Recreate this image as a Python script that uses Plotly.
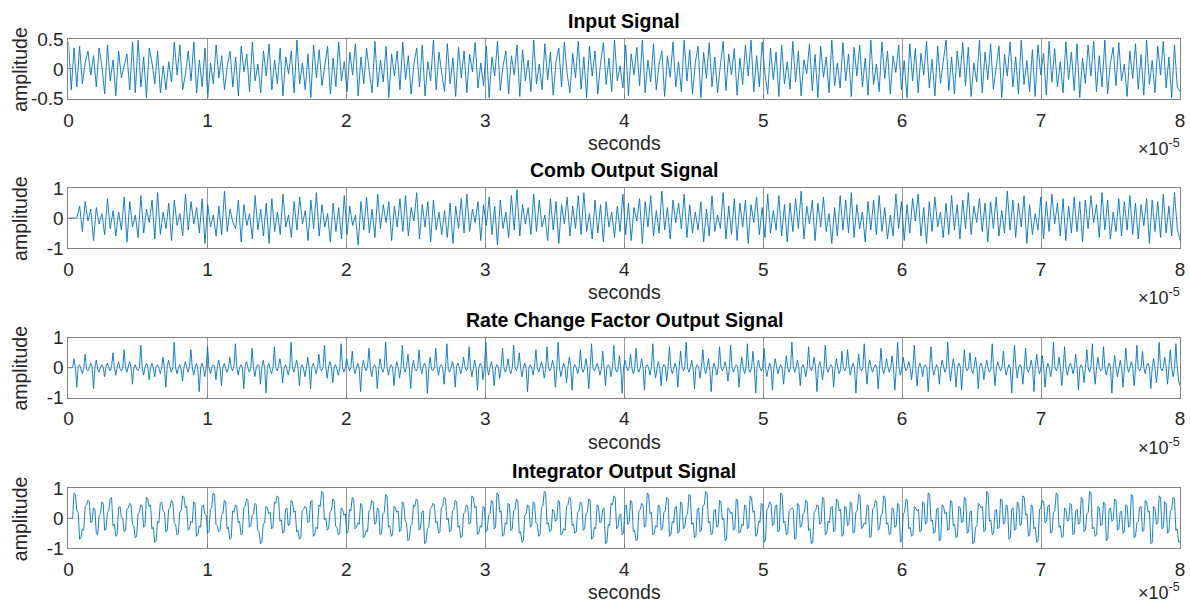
import numpy as np
import plotly.graph_objects as go

# Sampled signals of a CIC filter chain, amplitudes stored in hundredths.
input_signal_c = [
    45, -35, 35, -30, 38, -25, 10, 30, -10, 22, -30, 35, 5, -42, 40, -20, 15, -45, 30, -15,
    5, 25, -35, 45, -40, 48, -30, 20, -48, 35, 10, -25, 30, -40, 5, -35, 12, -22, 45, -10,
    40, -35, -8, 30, -20, 45, -40, 15, -30, 35, -48, 10, -25, 40, -15, 22, -35, 5, 30, -30,
    20, -45, 38, -5, 25, -38, 45, -20, 8, -40, 30, -12, 42, -35, 15, -25, 35, -45, 20, -8,
    30, -40, 48, -25, 10, -35, 25, -48, 40, -15, 32, -28, 5, 38, -42, 18, -30, 45, -20, 12,
    -38, 28, -10, 42, -45, 20, -25, 35, -5, -40, 46, -30, 15, -22, 38, -48, 25, -12, 30, -35,
    45, -18, 22, -42, 8, 35, -30, 40, -45, 12, -20, 48, -35, 28, -8, -38, 42, -25, 18, -46,
    36, -15, 30, -40, 25, -5, 44, -32, 10, -28, 38, -48, 20, -12, 46, -36, 5, 30, -42, 22,
    -10, 40, -46, 32, -20, 15, -38, 48, -25, 8, -35, 42, -18, 28, -44, 12, 35, -30, 45, -8,
    -40, 26, -15, 46, -34, 20, -48, 38, -12, 30, -42, 10, 44, -26, 18, -38, 48, -20, 5, -32,
    40, -45, 25, -10, 36, -28, 48, -40, 15, -22, 42, -35, 8, 30, -46, 22, -14, 45, -30, 12,
    -38, 48, -20, 32, -42, 10, 38, -48, 28, -16, 44, -30, 20, -40, 6, 46, -36, 25, -10, 34,
    -44, 18, -26, 40, -12, 48, -38, 22, -30, 45, -8, -42, 35, -18, 28, -46, 40, -25, 12, -34,
    46, -22, 30, -45, 15, -8, 42, -36, 24, -48, 38, -14, 20, -40, 48, -28, 10, -32, 44, -20,
    25, -46, 36, -12, 40, -30, 18, -44, 48, -26, 8, -38, 45, -16, 30, -42, 22, -6, 40, -35,
    14, -48, 42, -20, 34, -40, 26, -10, 46, -32, 16, -45, 38, -24, 12, 48, -36, 20, -42, 30,
    -14, 44, -28, 36, -46, 10, -22, 48, -40, 28, -18, 42, -34, 6, 38, -48, 24, -12, 45, -30,
    20, -42, 48, -26, 14, -38, 32, -46, 40, -10, 26, -44, 46, -22, 34, -30, 12, -40, 45, -18,
    28, -36, 42, -48, 18, -24, 40, -12, 46, -38, 22, -30, 48, -42, 10, 36, -28, 44, -20, 8,
    -46, 30, -16, 42, -34, 24, -44, 48, -26, 14, -40, 38, -10, 46, -32, 20, -48, 40, -30, -38,
]

comb_signal_c = [
    0, 0, 0, 0, 40, -45, 55, -10, 30, -75, 35, -20, 15, -55, 65, -35, 25, -60, 20, -40,
    70, -80, 55, -30, 10, -65, 75, -50, 30, -15, 60, -70, 85, -55, 20, -35, 50, -75, 60, -25,
    15, -60, 80, -40, 55, -20, 35, -50, 65, -85, 45, -30, 10, -60, 40, -55, 90, -45, 30, -15,
    -35, 60, -80, 45, -25, 15, -70, 75, -40, 30, -60, 50, -85, 65, -45, 20, -55, 80, -30, 10,
    -65, 55, -40, 70, -20, 25, -75, 60, -35, 85, -60, 45, -30, 15, -80, 50, -45, 35, -70, 75,
    -55, 40, -25, 10, -90, 55, -40, 70, -50, 30, -65, 80, -35, 45, -15, 55, -75, 40, -30, 65,
    -45, 75, -60, 35, -10, 85, -70, 45, -30, 55, -80, 60, -40, 20, -55, 25, -65, 50, -85, 40,
    -35, 65, -50, 80, -45, 30, -15, 55, -75, 45, -25, 70, -55, 40, -90, 60, -35, 20, -65, 75,
    -40, 95, -60, 45, -20, 35, -55, 80, -45, 60, -30, 10, -75, 65, -40, 55, -85, 45, -20, 70,
    -60, 40, -35, 75, -55, 85, -45, 15, -70, 60, -50, 45, -80, 55, -30, 20, -65, 40, -45, 80,
    -55, 50, -75, 35, -10, 65, -85, 55, -30, 75, -60, 25, -50, 90, -40, 35, -70, 60, -15, 50,
    -35, 80, -65, 45, -50, 20, -40, 55, -80, 30, -60, 75, -45, 10, -35, 85, -70, 40, -55, 65,
    -75, 50, -30, 60, -85, 45, -15, 70, -55, 35, -65, 80, -50, 25, -40, 75, -60, 45, -80, 50,
    -45, 65, -35, 90, -70, 40, -20, 60, -75, 50, -30, 70, -45, 15, -85, 35, -60, 75, -40, 60,
    -50, 85, -65, 45, -35, 20, -80, 55, -40, 60, -55, 75, -45, 35, -70, 10, -60, 80, -35, 55,
    -75, 45, -50, 65, -10, 80, -60, 35, -85, 55, -45, 70, -30, 20, -65, 50, -55, 75, -40, 45,
    -70, 60, -35, 85, -55, 40, -15, 65, -45, 50, -80, 55, -35, 70, -60, 25, -50, 90, -40, 60,
    -65, 50, -30, 75, -85, 45, -55, 15, -40, 70, -70, 55, -45, 80, -20, 50, -60, 65, -75, 40,
    -50, 70, -45, 55, -80, 60, -35, 75, -15, 45, -65, 85, -40, 60, -70, 20, -45, 65, -60, 55,
    -40, 75, -55, 50, -70, 45, -25, 65, -85, 60, -45, 55, -65, 80, -50, 40, -60, 85, -35, -75,
]

rate_change_c = [
    0, 0, 0, 0, 30, 0, -65, 5, 10, -5, -20, 0, 45, -5, -10, 0, 15, 3, -70, 0,
    25, -5, -15, 0, 10, 0, -30, 5, 15, 0, -10, 3, 50, 0, -25, 0, 20, -3, -10, 0,
    60, 0, -15, 5, 20, 0, -55, 0, 10, -5, -10, 0, 75, 0, -25, 0, 15, 5, -40, 0,
    15, 0, -30, 3, 10, 0, -20, 0, 35, -5, -65, 5, 25, 0, -15, 0, 85, 0, -20, 0,
    10, -5, -45, 0, 20, 0, -15, 5, 60, 0, -25, 0, 15, -5, -80, 0, 15, 0, -30, 3,
    70, 0, -20, 0, 10, 5, -40, 0, 25, 0, -60, 0, 15, -3, -15, 0, 35, 0, -10, 5,
    80, 0, -25, 0, 10, 0, -70, 5, 20, 0, -15, -3, 65, 0, -30, 0, 10, 5, -55, 0,
    25, 0, -85, 0, 15, -5, -20, 0, 70, 0, -10, 3, 30, 0, -50, 0, 10, -5, -25, 0,
    85, 0, -15, 5, 25, 0, -60, 0, 10, -5, -30, 0, 35, 0, -70, 3, 15, 0, -20, 0,
    45, -3, -10, 0, 75, 0, -35, 5, 20, 0, -50, 0, 10, -5, -25, 0, 80, 0, -15, 0,
    30, 5, -10, 0, 55, 0, -20, 0, 15, -3, -80, 0, 25, 0, -10, 5, 65, 0, -30, 0,
    10, 0, -70, -5, 30, 0, -15, 0, 85, 3, -25, 0, 10, 0, -60, -5, 20, 0, -35, 0,
    75, 0, -15, 5, 45, 0, -70, 0, 25, -3, -10, 0, 60, 0, -20, 5, 15, 0, -85, 0,
    35, -5, -10, 0, 65, 0, -25, 3, 10, 0, -55, 0, 80, -5, -15, 0, 20, 0, -65, 5,
    15, 0, -20, 0, 35, 5, -10, 0, 70, 0, -30, -3, 25, 0, -75, 0, 15, 5, -40, 0,
    85, 0, -25, 0, 20, -5, -60, 0, 10, 0, -35, 3, 65, 0, -15, 0, 30, -5, -20, 0,
    75, 0, -10, 5, 50, 0, -30, 0, 15, -3, -80, 0, 10, 0, -25, 5, 60, 0, -15, 0,
    20, 0, -35, -5, 70, 0, -10, 0, 25, 3, -65, 0, 85, 0, -30, -5, 15, 0, -50, 0,
    35, 5, -75, 0, 10, 0, -20, 0, 60, -3, -15, 0, 30, 0, -70, 5, 80, 0, -10, 0,
    15, 0, -25, -5, 55, 0, -60, 0, 10, 3, -30, 0, 75, 0, -15, -5, 40, 0, -85, 0,
    25, 5, -10, 0, 45, 0, -20, 0, 65, -3, -15, 0, 30, 0, -75, 5, 10, 0, -25, 0,
    80, 0, -35, -5, 20, 0, -60, 0, 10, 3, -45, 0, 70, 0, -20, -5, 15, 0, -65, 0,
    55, 5, -10, 0, 85, 0, -15, 0, 25, -3, -70, 0, 10, 0, -35, 5, 60, 0, -20, 0,
    30, 0, -80, -5, 15, 0, -25, 0, 70, 3, -10, 0, 20, 0, -45, -5, 75, 0, -15, 0,
    10, 5, -65, 0, 35, 0, -20, 0, 80, -3, -15, 0, 55, 0, -85, 5, 25, 0, -10, 0,
    65, 0, -30, -5, 15, 0, -75, 0, 30, 3, -20, 0, 10, 0, -55, -5, 40, 0, -15, 0,
    85, 5, -15, 0, 25, 0, -60, 0, 10, -3, -30, 0, 70, 0, -10, 5, 35, 0, -80, 0,
    20, 0, -40, -5, 75, 0, -15, 0, 10, 3, -65, 0, 30, 0, -20, -5, 55, 0, -10, 0,
    60, 5, -25, 0, 15, 0, -85, 0, 45, -3, -10, 0, 80, 0, -55, 5, 25, 0, -15, 0,
    10, 0, -70, -5, 65, 0, -20, 0, 30, 3, -15, 0, 40, 0, -75, -5, 85, 0, -25, 0,
    35, 5, -10, 0, 20, 0, -40, 0, 75, -3, -60, 0, 15, 0, -30, 5, 10, 0, -80, 0,
    70, 0, -25, -5, 10, 0, -55, 0, 25, 3, -15, 0, 85, 0, -45, -5, 30, 0, -65, 0,
    15, 5, -75, 0, 60, 0, -10, 0, 50, -3, -20, 0, 35, 0, -70, 5, 15, 0, -40, 0,
    25, 0, -15, -5, 80, 0, -60, 0, 20, 3, -10, 0, 55, 0, -25, -5, 10, 0, -85, 0,
    75, 5, -35, 0, 10, 0, -55, 0, 65, -3, -15, 0, 25, 0, -80, 5, 45, 0, -20, 0,
    40, 0, -65, -5, 15, 0, -30, 0, 85, 3, -10, 0, 35, 0, -60, -5, 70, 0, -25, 0,
    15, 5, -20, 0, 45, 0, -75, 0, 10, -3, -50, 0, 60, 0, -15, 5, 80, 0, -55, 0,
    35, 0, -10, -5, 70, 0, -25, 0, 15, 3, -85, 0, 40, 0, -30, -5, 25, 0, -65, 0,
    65, 5, -15, 0, 20, 0, -60, 0, 75, -3, -10, 0, 55, 0, -20, 5, 15, 0, -70, 0,
    30, 0, -50, -5, 85, 0, -10, 0, 35, 3, -55, 0, 60, 0, -30, -5, 80, 0, -45, -60,
]

integrator_c = [
    0, 0, 0, 0, 85, 80, 25, 20, -70, -65, -35, -40, 40, 45, 60, 55, -15, -10, 35, 30,
    -50, -55, 10, 15, 55, 50, -40, -35, 20, 25, 65, 70, -25, -20, -60, -55, 35, 40, 5, 0,
    -45, -40, 30, 35, 50, 45, -20, -25, -65, -60, 15, 20, 45, 40, -30, -25, 70, 65, 40, 45,
    -35, -30, -80, -75, -10, -15, 50, 55, 25, 20, -45, -40, 30, 35, 60, 55, -15, -20, -55, -50,
    20, 25, 75, 70, 35, 40, -40, -35, -10, -15, 55, 50, -60, -55, -25, -30, 40, 45, 15, 10,
    -50, -45, 30, 35, 85, 80, -20, -25, -45, -40, 10, 15, 60, 55, -35, -30, -70, -65, 25, 20,
    45, 40, -15, -10, -55, -50, 35, 40, 65, 60, -30, -25, 10, 15, 50, 45, -40, -45, -85, -80,
    -20, -15, 40, 35, 15, 20, -35, -30, 55, 50, 75, 70, -10, -5, -50, -45, 30, 35, -25, -20,
    60, 55, 20, 25, -45, -40, -70, -65, 25, 30, 40, 35, -15, -10, 55, 60, -60, -55, -30, -35,
    45, 40, 90, 85, -5, 0, -40, -35, 20, 25, 65, 60, -25, -30, -55, -50, 35, 30, 10, 15,
    -50, -45, 30, 25, 70, 65, -35, -30, -15, -20, 50, 45, -65, -60, -40, -45, 25, 30, 60, 55,
    -20, -15, 35, 30, -55, -50, 15, 20, 80, 75, -30, -25, -60, -55, 40, 35, 20, 25, -45, -40,
    55, 50, -10, -15, -75, -70, -25, -20, 45, 40, 65, 60, -40, -35, 20, 25, -85, -80, -35, -30,
    30, 35, 50, 45, -15, -10, -50, -45, 35, 40, 70, 65, -5, 0, -45, -40, 25, 30, 60, 55,
    -30, -25, -65, -60, 15, 20, 45, 40, -20, -15, 75, 70, 35, 40, -55, -50, -25, -30, 40, 35,
    -45, -40, 10, 15, 60, 55, -35, -30, 85, 80, 20, 25, -60, -55, -15, -20, 50, 45, -40, -35,
    25, 30, 65, 60, -50, -45, -80, -75, 10, 15, 45, 40, -30, -25, 55, 50, -15, -20, -60, -55,
    35, 40, 90, 85, -20, -15, -45, -40, 30, 25, -10, -5, 60, 55, -55, -50, -35, -40, 40, 45,
    70, 65, -25, -20, -50, -45, 20, 25, 55, 50, -40, -35, 15, 20, 65, 60, -70, -65, -30, -35,
    45, 40, -15, -10, 30, 35, -85, -80, -20, -25, 50, 45, 75, 70, -35, -30, 10, 15, -55, -50,
    40, 45, -20, -15, 60, 55, -45, -40, -75, -70, 25, 30, 50, 45, -30, -25, 85, 80, 15, 20,
    -55, -50, -25, -30, 45, 40, -40, -35, 20, 25, 70, 65, -60, -55, -10, -15, 35, 40, -50, -45,
    55, 50, -35, -30, 10, 15, 80, 75, -20, -15, -65, -60, 30, 35, -45, -40, 40, 45, 90, 85,
    -15, -10, -55, -50, 25, 30, -30, -25, 60, 55, -5, 0, -75, -70, 35, 30, 15, 20, -40, -35,
    65, 60, -50, -45, -20, -25, 45, 40, -35, -30, 75, 70, 20, 25, -60, -55, -10, -15, 50, 45,
    -80, -75, 30, 35, 55, 50, -25, -20, 40, 45, -45, -40, 85, 80, -15, -10, -55, -50, 25, 30,
    35, 30, -70, -65, 50, 45, -30, -25, 15, 20, 60, 55, -40, -35, -85, -80, 20, 25, 45, 40,
    -20, -15, 70, 65, -55, -50, -10, -15, 35, 40, -45, -40, 65, 60, 25, 30, -60, -55, 40, 35,
    -25, -20, 55, 50, -50, -45, 20, 25, 80, 75, -35, -30, -15, -20, 45, 40, -65, -60, 30, 35,
    60, 55, -40, -35, 10, 15, 75, 70, -20, -15, -55, -50, 35, 30, -30, -25, 50, 45, -80, -75,
    15, 20, 65, 60, -35, -30, -60, -55, 40, 35, 25, 30, -45, -40, 55, 50, -20, -15, 85, 80,
    -10, -5, -50, -45, 30, 35, -75, -70, 45, 40, 15, 20, -40, -35, 60, 55, -25, -20, -65, -60,
    40, 35, -15, -10, 70, 65, -50, -45, 20, 25, -85, -80, -30, -25, 50, 45, 35, 40, -45, -40,
    90, 85, -10, -5, -55, -50, 25, 30, -35, -30, 65, 60, -20, -15, 45, 40, -70, -65, 30, 35,
    -40, -35, 55, 50, -25, -20, 75, 70, 10, 15, -60, -55, 45, 40, -35, -30, -80, -75, 30, 35,
    60, 55, -15, -10, 40, 45, -50, -45, 20, 25, 85, 80, -30, -25, -65, -60, 35, 30, -10, -5,
    50, 45, -55, -50, 25, 30, -20, -15, 70, 65, -45, -40, 15, 20, 90, 85, -35, -30, -60, -55,
    40, 35, -25, -20, 55, 50, -75, -70, 30, 35, -10, -5, 65, 60, -40, -35, 20, 25, -50, -45,
    45, 40, -30, -25, 80, 75, -65, -60, -15, -10, 35, 40, -45, -40, 60, 55, 20, 25, -85, -80,
    40, 35, -20, -15, 75, 70, -35, -30, 55, 50, -50, -45, 25, 30, 70, 65, -40, -35, -80, -75,
]

titles = ["Input Signal", "Comb Output Signal",
          "Rate Change Factor Output Signal", "Integrator Output Signal"]
x_tick_vals = [0, 1e-5, 2e-5, 3e-5, 4e-5, 5e-5, 6e-5, 7e-5, 8e-5]
x_tick_text = ["0", "1", "2", "3", "4", "5", "6", "7", "8"]
y_ranges = [(-0.5, 0.5), (-1, 1), (-1, 1), (-1, 1)]
y_tick_vals = [[-0.5, 0, 0.5], [-1, 0, 1], [-1, 0, 1], [-1, 0, 1]]
y_tick_text = [["-0.5", "0", "0.5"], ["-1", "0", "1"], ["-1", "0", "1"], ["-1", "0", "1"]]

series = [np.array(s, dtype=float) / 100.0
          for s in (input_signal_c, comb_signal_c, rate_change_c, integrator_c)]

# Figure geometry in pixels
W, H = 1190, 608
LEFT, RIGHT = 64, 1185
BOX_TOPS = [30, 184.5, 339.5, 495.5]
BOX_H = 62
TITLE_GAP = 18.5
XLABEL_GAP = 45.5
EXP_GAP = 50.5
FONT = "Liberation Sans, Arial, Helvetica, sans-serif"
TXT = "#262626"
LINE = "#0072BD"
AXIS = "#808080"

fig = go.Figure()
annotations = []
for i, y in enumerate(series):
    n = len(y)
    t = np.linspace(0, 8e-5, n)
    ax = "" if i == 0 else str(i + 1)
    fig.add_trace(go.Scatter(x=t, y=y, mode="lines",
                             line=dict(color=LINE, width=0.9),
                             xaxis="x" + ax, yaxis="y" + ax,
                             showlegend=False, hoverinfo="skip"))
    top = BOX_TOPS[i]
    bottom = top + BOX_H
    dom_y = [1 - bottom / H, 1 - top / H]
    fig.layout["xaxis" + ax] = dict(
        domain=[LEFT / W, RIGHT / W], range=[0, 8e-5],
        tickvals=x_tick_vals, ticktext=x_tick_text,
        ticks="inside", ticklen=5, tickcolor=AXIS,
        showline=True, mirror=True, linecolor=AXIS, linewidth=1,
        showgrid=True, gridcolor="rgba(80,80,80,0.6)", gridwidth=1,
        zeroline=False, anchor="y" + ax, ticklabelstandoff=4,
        ticklabeloverflow="allow",
        tickfont=dict(family=FONT, size=19, color=TXT),
    )
    fig.layout["yaxis" + ax] = dict(
        domain=dom_y, range=list(y_ranges[i]),
        tickvals=y_tick_vals[i], ticktext=y_tick_text[i],
        ticks="inside", ticklen=5, tickcolor=AXIS,
        showline=True, mirror=True, linecolor=AXIS, linewidth=1,
        showgrid=True, gridcolor="rgba(80,80,80,0.2)", gridwidth=1,
        zeroline=False, anchor="x" + ax, ticklabeloverflow="allow",
        tickfont=dict(family=FONT, size=19, color=TXT),
    )
    cx = (LEFT + RIGHT) / 2 / W
    annotations.append(dict(text="<b>%s</b>" % titles[i], x=cx,
                            y=1 - (top - TITLE_GAP) / H,
                            xref="paper", yref="paper", showarrow=False,
                            xanchor="center", yanchor="middle",
                            font=dict(family=FONT, size=19.5, color="#000000")))
    annotations.append(dict(text="seconds", x=cx, y=1 - (bottom + XLABEL_GAP) / H,
                            xref="paper", yref="paper", showarrow=False,
                            xanchor="center", yanchor="middle",
                            font=dict(family=FONT, size=19.5, color=TXT)))
    annotations.append(dict(text="amplitude", x=15 / W, y=1 - (top + BOX_H / 2) / H,
                            xref="paper", yref="paper", showarrow=False,
                            textangle=-90, xanchor="center", yanchor="middle",
                            font=dict(family=FONT, size=19.5, color=TXT)))
    annotations.append(dict(text="\u00d710<sup>-5</sup>", x=1187 / W,
                            y=max(1 - (bottom + EXP_GAP) / H, 6 / H),
                            xref="paper", yref="paper", showarrow=False,
                            xanchor="right", yanchor="middle",
                            font=dict(family=FONT, size=18, color=TXT)))

fig.update_layout(width=W, height=H, margin=dict(l=0, r=0, t=0, b=0),
                  paper_bgcolor="white", plot_bgcolor="white",
                  annotations=annotations)
fig.write_html("out.html")
